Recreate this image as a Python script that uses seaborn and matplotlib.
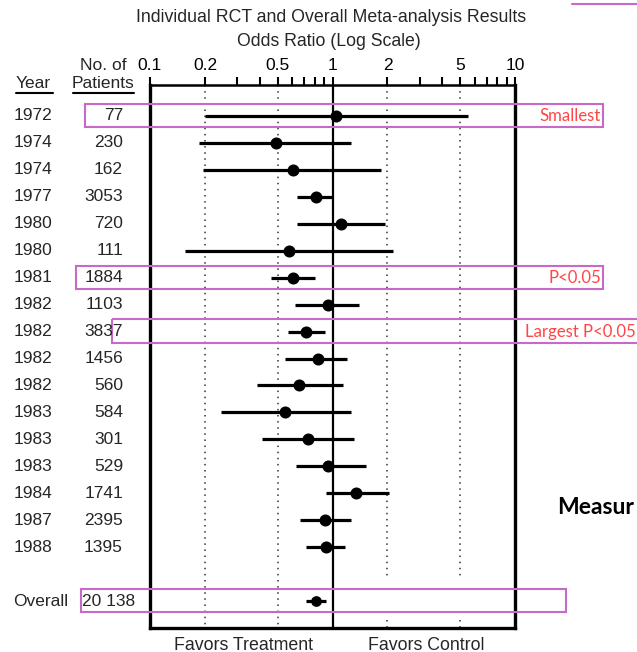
import numpy as np
import pandas as pd
import seaborn as sns
import matplotlib.pyplot as plt
import matplotlib.transforms as mtransforms
from matplotlib.patches import Rectangle
from matplotlib.lines import Line2D

# --- datos ---
years = ["1972", "1974", "1974", "1977", "1980", "1980", "1981", "1982", "1982",
         "1982", "1982", "1983", "1983", "1983", "1984", "1987", "1988"]
patients = ["77", "230", "162", "3053", "720", "111", "1884", "1103", "3837",
            "1456", "560", "584", "301", "529", "1741", "2395", "1395"]
odds = [1.04, 0.49, 0.61, 0.81, 1.12, 0.575, 0.605, 0.95, 0.72,
        0.836, 0.653, 0.552, 0.731, 0.94, 1.35, 0.91, 0.917]
ci_low = [0.20, 0.186, 0.194, 0.64, 0.64, 0.155, 0.459, 0.624, 0.572,
          0.546, 0.385, 0.244, 0.41, 0.634, 0.92, 0.66, 0.72]
ci_high = [5.5, 1.26, 1.85, 1.0, 1.94, 2.14, 0.80, 1.40, 0.91,
           1.20, 1.14, 1.26, 1.31, 1.52, 2.04, 1.26, 1.17]

overall_label = "Overall"
overall_n = "20 138"
overall_odds = 0.81
overall_low = 0.72
overall_high = 0.92

tick_vals = [0.1, 0.2, 0.3, 0.4, 0.5, 0.6, 0.7, 0.8, 0.9,
             1, 2, 3, 4, 5, 6, 7, 8, 9, 10]
tick_labels = ["0.1", "0.2", "", "", "0.5", "", "", "", "",
               "1", "2", "", "", "5", "", "", "", "", "10"]
grid_vals = [0.2, 0.5, 2, 5]

sns.set_theme(style="white")
plt.rcParams['font.family'] = ['Liberation Sans', 'DejaVu Sans']

W, H = 637, 652
fig = plt.figure(figsize=(W / 100, H / 100), dpi=100)
ax = fig.add_axes([150 / W, 1 - 628 / H, (515 - 150) / W, (628 - 85) / H])

rows = np.arange(len(years))
overall_row = len(years) + 1
df = pd.DataFrame({"row": rows, "odds": odds, "lo": ci_low, "hi": ci_high})
df_all = pd.DataFrame({"row": [overall_row], "odds": [overall_odds],
                       "lo": [overall_low], "hi": [overall_high]})

# lineas de referencia
for g in grid_vals:
    if g > 1:
        ax.vlines(g, -1.15, overall_row - 0.8, color='#333333', lw=1.1, linestyles=(0, (1, 3)))
        ax.vlines(g, overall_row + 0.7, 19.0, color='#333333', lw=1.1, linestyles=(0, (1, 3)))
    else:
        ax.vlines(g, -1.15, 19.0, color='#333333', lw=1.1, linestyles=(0, (1, 3)))
ax.axvline(1, color='black', lw=1.6, zorder=1)

# intervalos y puntos
ax.hlines(df.row, df.lo, df.hi, color='black', lw=2.3, zorder=2)
ax.hlines(df_all.row, df_all.lo, df_all.hi, color='black', lw=2.3, zorder=2)
sns.scatterplot(data=df, x="odds", y="row", ax=ax, color='black', s=75,
                linewidth=0, zorder=3)
sns.scatterplot(data=df_all, x="odds", y="row", ax=ax, color='black', s=60,
                linewidth=0, zorder=3)

ax.set_xscale('log')
ax.set_xlim(0.1, 10)
ax.set_ylim(19.0, -1.15)
ax.set_xlabel('')
ax.set_ylabel('')
ax.set_yticks([])
ax.set_xticks(tick_vals, tick_labels)
ax.xaxis.set_minor_locator(plt.NullLocator())
ax.tick_params(axis='x', top=True, bottom=False, labeltop=True, labelbottom=False,
               direction='out', length=6, width=1.5, labelsize=12.5, pad=3, colors='black')
for side in ['left', 'right', 'bottom']:
    ax.spines[side].set_linewidth(2.4)
    ax.spines[side].set_color('black')
ax.spines['top'].set_linewidth(1.8)
ax.spines['top'].set_color('black')

# columnas de texto
trans = mtransforms.blended_transform_factory(fig.transFigure, ax.transData)
for r, yr, n in zip(rows, years, patients):
    fig.text(14 / W, r, yr, transform=trans, ha='left', va='center', fontsize=12.5)
    fig.text(123 / W, r, n, transform=trans, ha='right', va='center', fontsize=12.5)
fig.text(13 / W, overall_row, overall_label, transform=trans, ha='left', va='center', fontsize=12.5)
fig.text(82 / W, overall_row, overall_n, transform=trans, ha='left', va='center', fontsize=12.5)

# encabezados
fig.text(16 / W, 1 - 83 / H, "Year", ha='left', va='center', fontsize=12.5)
fig.text(103 / W, 1 - 65 / H, "No. of", ha='center', va='center', fontsize=12.5)
fig.text(103 / W, 1 - 83 / H, "Patients", ha='center', va='center', fontsize=12.5)
fig.add_artist(Line2D([16 / W, 53 / W], [1 - 93 / H] * 2, color='black', lw=1.5))
fig.add_artist(Line2D([73 / W, 134 / W], [1 - 93 / H] * 2, color='black', lw=1.5))

fig.text(331 / W, 1 - 18 / H, "Individual RCT and Overall Meta-analysis Results",
         ha='center', va='center', fontsize=12.8)
fig.text(329 / W, 1 - 41 / H, "Odds Ratio (Log Scale)", ha='center', va='center', fontsize=12.7)
fig.text(243 / W, 1 - 645 / H, "Favors Treatment", ha='center', va='center', fontsize=12.8)
fig.text(426 / W, 1 - 645 / H, "Favors Control", ha='center', va='center', fontsize=12.8)

# recuadros rosas y notas
pink = '#C868C8'
red = '#FF4545'
boxes = [(0, 85, 603), (6, 76, 603), (8, 112, 640), (overall_row, 81, 566)]
for r, x0, x1 in boxes:
    fig.add_artist(Rectangle((x0 / W, r - 0.45), (x1 - x0) / W, 0.87, transform=trans,
                             fill=False, edgecolor=pink, lw=1.5, clip_on=False))
fig.add_artist(Line2D([572 / W, 1], [1 - 3.5 / H] * 2, color=pink, lw=1.5))

fig.text(601 / W, 0, "Smallest", transform=trans, ha='right', va='center',
         fontsize=12.1, color=red, family=['Lato', 'DejaVu Sans'])
fig.text(601 / W, 6, "P<0.05", transform=trans, ha='right', va='center',
         fontsize=12.1, color=red, family=['Lato', 'DejaVu Sans'])
fig.text(636 / W, 8, "Largest P<0.05", transform=trans, ha='right', va='center',
         fontsize=12.1, color=red, family=['Lato', 'DejaVu Sans'])
fig.text(557 / W, 1 - 507 / H, "Measur", ha='left', va='center', fontsize=16.5,
         fontweight='bold', color='black', family=['Lato', 'DejaVu Sans'])

fig.savefig("out.png", dpi=100)
